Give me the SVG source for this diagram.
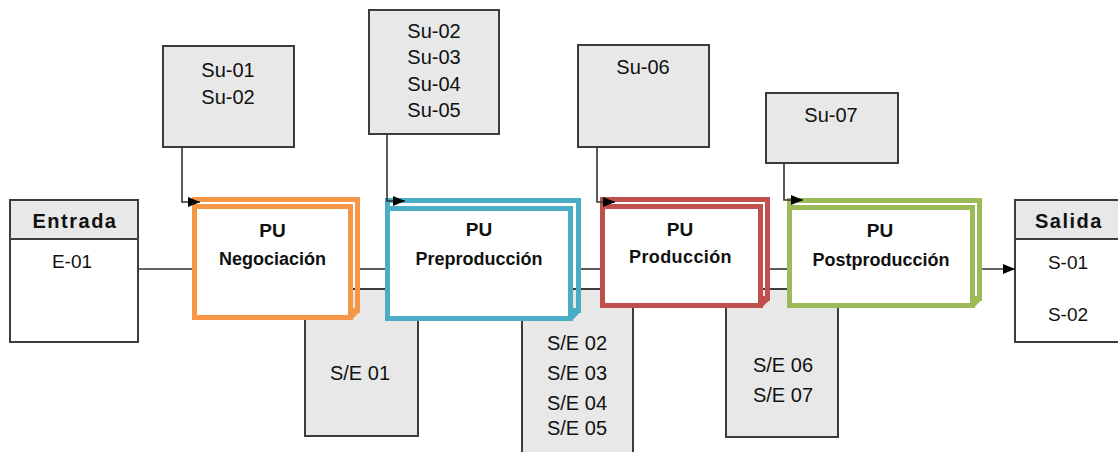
<svg xmlns="http://www.w3.org/2000/svg" width="1118" height="452" viewBox="0 0 1118 452">
<style>
.box{fill:#e8e8e8;stroke:#3c3c3c;stroke-width:2}
.wbox{fill:#ffffff;stroke:#3c3c3c;stroke-width:2}
.t{font-family:"Liberation Sans",Arial,sans-serif;font-size:20px;fill:#111;text-anchor:middle}
.h{font-family:"Liberation Sans",Arial,sans-serif;font-size:20px;font-weight:bold;fill:#111;text-anchor:middle;letter-spacing:1.5px}
.pu{font-family:"Liberation Sans",Arial,sans-serif;font-size:19px;font-weight:bold;fill:#111;text-anchor:middle}
.pn{font-family:"Liberation Sans",Arial,sans-serif;font-size:18px;font-weight:bold;fill:#111;text-anchor:middle}
.ln{fill:none;stroke:#333;stroke-width:1.6}
.w{fill:#fff;stroke-width:5}
.b{fill:none;stroke-width:5}
</style>
<defs>
<marker id="ah" viewBox="0 0 12 10" refX="12" refY="5" markerWidth="12" markerHeight="10" markerUnits="userSpaceOnUse" orient="auto">
<path d="M0,0 L12,5 L0,10 Z" fill="#000"/>
</marker>
</defs>

<!-- Entrada -->
<g id="entrada">
<rect class="wbox" x="10" y="200" width="128" height="142"/>
<rect class="box" x="10" y="200" width="128" height="39"/>
<text class="h" x="75" y="228">Entrada</text>
<text class="t" x="72" y="268" style="font-size:19px">E-01</text>
</g>

<!-- Salida -->
<g id="salida">
<rect class="wbox" x="1015" y="200" width="115" height="142"/>
<rect class="box" x="1015" y="200" width="115" height="39"/>
<text class="h" x="1069" y="228">Salida</text>
<text class="t" x="1068" y="269" style="font-size:19px">S-01</text>
<text class="t" x="1068" y="321" style="font-size:19px">S-02</text>
</g>

<!-- Supplier boxes -->
<g id="su1">
<rect class="box" x="163" y="46" width="131" height="101"/>
<text class="t" x="228" y="77">Su-01</text>
<text class="t" x="228" y="104">Su-02</text>
</g>
<g id="su2">
<rect class="box" x="369" y="10" width="130" height="124"/>
<text class="t" x="434" y="38">Su-02</text>
<text class="t" x="434" y="64">Su-03</text>
<text class="t" x="434" y="91">Su-04</text>
<text class="t" x="434" y="117">Su-05</text>
</g>
<g id="su3">
<rect class="box" x="578" y="45" width="131" height="102"/>
<text class="t" x="643" y="74">Su-06</text>
</g>
<g id="su4">
<rect class="box" x="766" y="93" width="132" height="70"/>
<text class="t" x="831" y="122">Su-07</text>
</g>

<!-- S/E boxes (behind process boxes) -->
<g id="se1">
<rect class="box" x="305" y="289" width="113" height="147"/>
<text class="t" x="360" y="380">S/E 01</text>
</g>
<g id="se2">
<rect class="box" x="522" y="289" width="111" height="175"/>
<text class="t" x="577" y="350">S/E 02</text>
<text class="t" x="577" y="380">S/E 03</text>
<text class="t" x="577" y="410">S/E 04</text>
<text class="t" x="577" y="435">S/E 05</text>
</g>
<g id="se3">
<rect class="box" x="726" y="289" width="112" height="148"/>
<text class="t" x="783" y="372">S/E 06</text>
<text class="t" x="783" y="402">S/E 07</text>
</g>

<!-- Process boxes -->
<g id="pu-negociacion" stroke="#f79646">
<rect class="b" x="194.5" y="199.5" width="163" height="111"/>
<line class="b" x1="350.5" y1="317.5" x2="357.5" y2="310.5"/>
<rect class="w" x="194.5" y="206.5" width="156" height="111"/>
<text class="pu" x="272.5" y="237" stroke="none">PU</text>
<text class="pn" x="272.5" y="265" stroke="none">Negociación</text>
</g>
<g id="pu-preproduccion" stroke="#4bacc6">
<rect class="b" x="387.5" y="200.5" width="191" height="110"/>
<line class="b" x1="570.5" y1="318.5" x2="578.5" y2="310.5"/>
<rect class="w" x="387.5" y="208.5" width="183" height="110"/>
<text class="pu" x="479" y="236" stroke="none">PU</text>
<text class="pn" x="479" y="265" stroke="none">Preproducción</text>
</g>
<g id="pu-produccion" stroke="#c0504d">
<rect class="b" x="602.5" y="199.5" width="165" height="99"/>
<line class="b" x1="760.5" y1="305.5" x2="767.5" y2="298.5"/>
<rect class="w" x="602.5" y="206.5" width="158" height="99"/>
<text class="pu" x="680" y="236" stroke="none">PU</text>
<text class="pn" x="680.5" y="263" stroke="none" letter-spacing="0.4">Producción</text>
</g>
<g id="pu-postproduccion" stroke="#9bbb59">
<rect class="b" x="789.5" y="200.5" width="190" height="98"/>
<line class="b" x1="972.5" y1="305.5" x2="979.5" y2="298.5"/>
<rect class="w" x="789.5" y="207.5" width="183" height="98"/>
<text class="pu" x="880" y="237" stroke="none">PU</text>
<text class="pn" x="881" y="266" stroke="none">Postproducción</text>
</g>

<!-- Connectors -->
<g id="connectors">
<line class="ln" x1="138" y1="269" x2="192" y2="269"/>
<line class="ln" x1="360" y1="269" x2="385" y2="269"/>
<line class="ln" x1="581" y1="269" x2="600" y2="269"/>
<line class="ln" x1="770" y1="269" x2="787" y2="269"/>
<path class="ln" d="M982,269 H1015" marker-end="url(#ah)"/>
<path class="ln" d="M182,147 V202 H200" marker-end="url(#ah)"/>
<path class="ln" d="M387,134 V201 H405" marker-end="url(#ah)"/>
<path class="ln" d="M597,147 V202 H615" marker-end="url(#ah)"/>
<path class="ln" d="M784,163 V200 H803" marker-end="url(#ah)"/>
</g>
</svg>
